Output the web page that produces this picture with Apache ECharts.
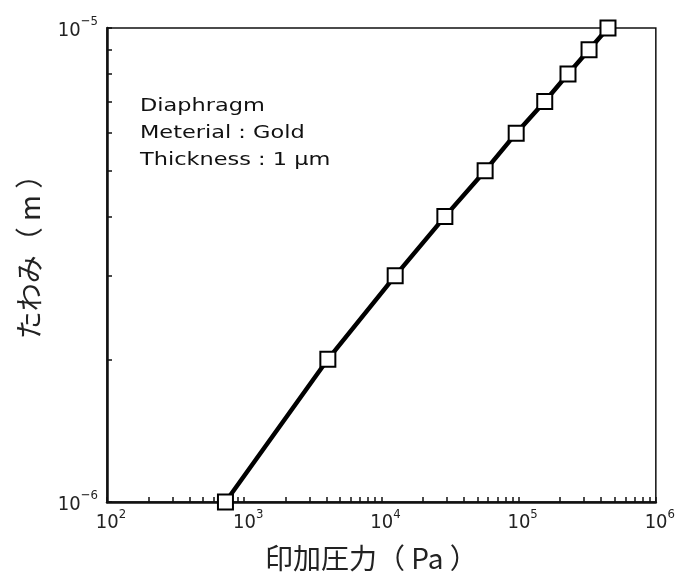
<!DOCTYPE html>
<html>
<head>
<meta charset="utf-8">
<script src="https://cdn.jsdelivr.net/npm/echarts@6/dist/echarts.min.js"></script>
<style>
  html, body { margin: 0; padding: 0; background: #fff; }
  #chart { width: 678px; height: 578px; }
</style>
</head>
<body>
<div id="chart"></div>
<script>
// 印加圧力 (Pa) と たわみ (m)
const pressure = [730, 4070, 12600, 29000, 57000, 96000, 155000, 229000, 326000, 448000]
const deflection = [1e-6, 2e-6, 3e-6, 4e-6, 5e-6, 6e-6, 7e-6, 8e-6, 9e-6, 1e-5]

const xTickLabels = { 2: '2', 3: '3', 4: '4', 5: '5', 6: '6' }
const yTickLabels = { '-6': '−6', '-5': '−5' }
const noteLines = ['Diaphragm', 'Meterial : Gold', 'Thickness : 1 μm']

// minor tick positions (2..9 per decade)
const multipliers = [1, 2, 3, 4, 5, 6, 7, 8, 9]
const xTicks = []
;[2, 3, 4, 5].forEach(d => multipliers.forEach(m => xTicks.push(m * Math.pow(10, d))))
xTicks.push(1e6)
const yTicks = multipliers.map(m => m * 1e-6).concat([1e-5])

const chart = echarts.init(document.getElementById('chart'))

const condensed = 'DejaVu Sans Condensed, DejaVu Sans, sans-serif'
const powRich = (padLeft) => ({
  b: { fontSize: 20, fontFamily: condensed, color: '#222', lineHeight: 25, verticalAlign: 'bottom', padding: [0, 0, 0, padLeft] },
  s: { fontSize: 13, fontFamily: condensed, color: '#222', lineHeight: 13, verticalAlign: 'top' }
})

chart.setOption({
  animation: false,
  grid: {
    left: 107, right: 21, top: 28, bottom: 76,
    show: true,
    borderColor: '#111',
    borderWidth: 1.5
  },
  xAxis: {
    type: 'log',
    logBase: 10,
    min: 100,
    max: 1e6,
    name: '印加圧力（ Pa ）',
    nameLocation: 'middle',
    nameGap: 42,
    nameTextStyle: { color: '#222', fontSize: 28, fontFamily: 'Noto Sans CJK JP', padding: [0, 20, 0, 0] },
    axisLine: { lineStyle: { color: '#111', width: 2.5 } },
    axisTick: {
      inside: true, length: 5,
      customValues: xTicks,
      lineStyle: { color: '#111', width: 1.5 }
    },
    axisLabel: {
      margin: 6,
      formatter: v => {
        const e = xTickLabels[Math.round(Math.log10(v))]
        return e ? '{b|10}{s|' + e + '}' : ''
      },
      rich: powRich(8)
    },
    splitLine: { show: false },
    minorTick: { show: false }
  },
  yAxis: {
    type: 'log',
    logBase: 10,
    min: 1e-6,
    max: 1e-5,
    name: 'たわみ（ m ）',
    nameLocation: 'middle',
    nameGap: 64,
    nameRotate: 90,
    nameTextStyle: { color: '#222', fontSize: 28, fontFamily: 'Noto Sans CJK JP', padding: [0, 0, 0, 30] },
    axisLine: { lineStyle: { color: '#111', width: 2.5 } },
    axisTick: {
      inside: true, length: 5,
      customValues: yTicks,
      lineStyle: { color: '#111', width: 1.5 }
    },
    axisLabel: {
      margin: 9,
      formatter: v => {
        const e = yTickLabels[String(Math.round(Math.log10(v)))]
        return e ? '{b|10}{s|' + e + '}' : ''
      },
      rich: powRich(0)
    },
    splitLine: { show: false },
    minorTick: { show: false }
  },
  graphic: noteLines.map((t, i) => ({
    type: 'text',
    left: 140,
    top: 98 + i * 27,
    scaleX: 1.32,
    style: {
      text: t,
      fill: '#111',
      fontSize: 17,
      fontFamily: 'DejaVu Sans, sans-serif'
    }
  })),
  series: [{
    type: 'line',
    data: pressure.map((p, i) => [p, deflection[i]]),
    clip: false,
    symbol: 'rect',
    symbolSize: 15,
    lineStyle: { color: '#000', width: 4.5 },
    itemStyle: { color: '#fff', borderColor: '#000', borderWidth: 2 }
  }]
})
</script>
</body>
</html>
